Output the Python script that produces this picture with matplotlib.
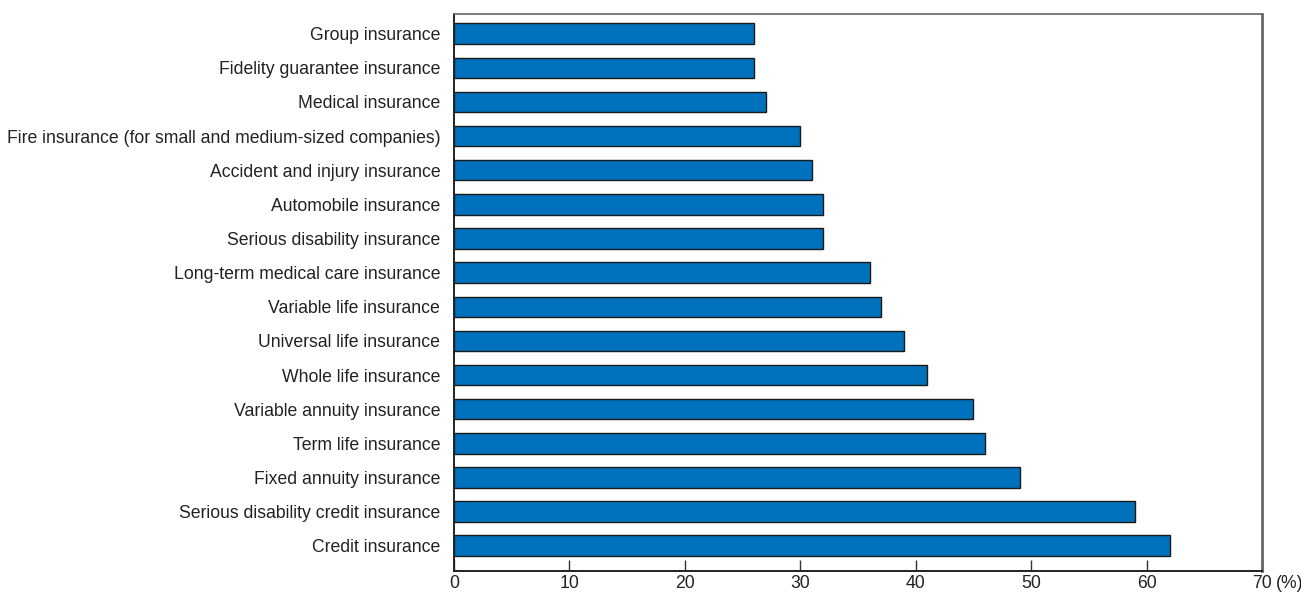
import matplotlib.pyplot as plt
from matplotlib.transforms import ScaledTranslation

plt.rcParams['font.family'] = ['Liberation Sans', 'DejaVu Sans']

# categories listed from top to bottom as in the chart
categories = [
    'Group insurance',
    'Fidelity guarantee insurance',
    'Medical insurance',
    'Fire insurance (for small and medium-sized companies)',
    'Accident and injury insurance',
    'Automobile insurance',
    'Serious disability insurance',
    'Long-term medical care insurance',
    'Variable life insurance',
    'Universal life insurance',
    'Whole life insurance',
    'Variable annuity insurance',
    'Term life insurance',
    'Fixed annuity insurance',
    'Serious disability credit insurance',
    'Credit insurance',
]
values = [26, 26, 27, 30, 31, 32, 32, 36, 37, 39, 41, 45, 46, 49, 59, 62]
x_ticks = [0, 10, 20, 30, 40, 50, 60, 70]

fs = 12.7

fig = plt.figure(figsize=(13.01, 5.92), dpi=100)
ax = fig.add_axes([0.349, 0.0355, 0.621, 0.9405])

n = len(categories)
pos = [n - 1 - i for i in range(n)]
ax.barh(pos, values, height=0.6, color='#0071bc', edgecolor='#1a1a1a', linewidth=1)

ax.set_yticks(pos)
ax.set_yticklabels(categories, fontsize=fs, color='#222222')
ax.tick_params(axis='y', length=0, pad=10)
ax.set_ylim(-0.74, n - 1 + 0.57)

ax.set_xlim(0, 70)
ax.set_xticks(x_ticks)
ax.set_xticklabels([str(t) for t in x_ticks], fontsize=fs, color='#222222')
ax.tick_params(axis='x', direction='in', length=8, width=1, pad=3, color='#333333')

# unit label just right of the last tick label
unit_tr = ax.get_xaxis_transform() + ScaledTranslation(0.14, -0.045, fig.dpi_scale_trans)
ax.text(70, 0, '(%)', transform=unit_tr, fontsize=fs, color='#222222',
        ha='left', va='top')

for side in ['left', 'bottom']:
    ax.spines[side].set_color('#222222')
    ax.spines[side].set_linewidth(1.4)
ax.spines['top'].set_color('#666666')
ax.spines['top'].set_linewidth(1.2)
ax.spines['right'].set_color('#666666')
ax.spines['right'].set_linewidth(2)

fig.savefig('out.png', dpi=100)
